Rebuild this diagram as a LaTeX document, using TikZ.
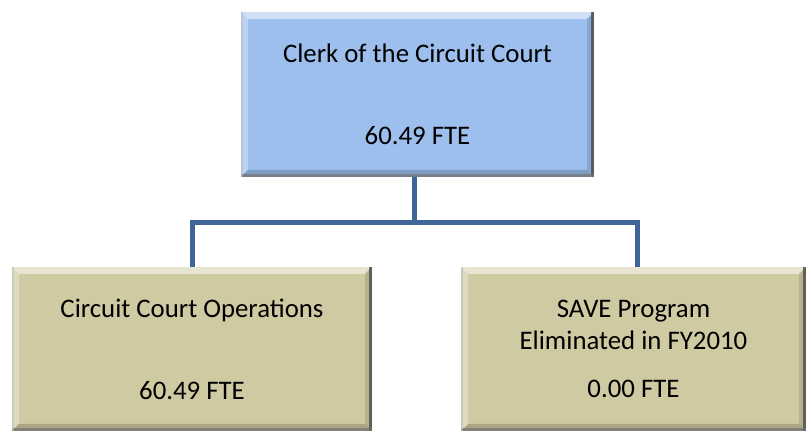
\documentclass[tikz,border=0pt]{standalone}
\usepackage{fontspec}
\setmainfont{Carlito}
\usetikzlibrary{calc}
\definecolor{headfill}{HTML}{9DBFEE}
\definecolor{unitfill}{HTML}{D0CAA3}
\definecolor{linkblue}{HTML}{3F6598}
\tikzset{
  orgbox/.style={
    rectangle, inner sep=0pt, fill=#1, align=center,
    font=\fontsize{26.8}{31.5}\selectfont,
    path picture={
      \coordinate (bnw) at (path picture bounding box.north west);
      \coordinate (bne) at (path picture bounding box.north east);
      \coordinate (bsw) at (path picture bounding box.south west);
      \coordinate (bse) at (path picture bounding box.south east);
      % bevel: light top and left faces, dark bottom and right faces
      \fill[white,opacity=.5] (bnw) -- (bne) -- ($(bne)+(-7,-7)$) -- ($(bnw)+(7,-7)$) -- cycle;
      \fill[white,opacity=.3] (bnw) -- ($(bnw)+(7,-7)$) -- ($(bsw)+(7,7)$) -- (bsw) -- cycle;
      \fill[black,opacity=.18] (bsw) -- ($(bsw)+(7,7)$) -- ($(bse)+(-7,7)$) -- (bse) -- cycle;
      \fill[black,opacity=.12] (bne) -- (bse) -- ($(bse)+(-7,7)$) -- ($(bne)+(-7,-7)$) -- cycle;
      % rim shadow on the right and bottom, pale rim on the left
      \fill[black!70,opacity=.8] ($(bne)+(-3,0)$) rectangle (bse);
      \fill[black!55,opacity=.7] ($(bsw)+(0,3)$) rectangle (bse);
      \fill[black!25,opacity=.6] (bnw) rectangle ($(bsw)+(2,0)$);
    }
  },
  link/.style={draw=linkblue, line width=5pt}
}
\begin{document}
\begin{tikzpicture}[x=1pt,y=1pt]
  \useasboundingbox (0,0) rectangle (807,431);
  \node[orgbox=headfill, minimum width=353pt, minimum height=165pt] (clerk) at (417.5,336.5)
    {Clerk of the Circuit Court\\[50.5pt]60.49 FTE};
  \node[orgbox=unitfill, minimum width=360pt, minimum height=164pt] (ops) at (192,82)
    {Circuit Court Operations\\[50.5pt]60.49 FTE};
  \node[orgbox=unitfill, minimum width=345pt, minimum height=164pt] (save) at (633.5,82)
    {SAVE Program\\Eliminated in FY2010\\[17pt]0.00 FTE};
  \coordinate (hub) at ($(clerk.south)+(-3,-45)$);
  \draw[link] ($(clerk.south)+(-3,0)$) -- (hub);
  \draw[link] (ops.north) |- (hub) -| ($(save.north)+(4,0)$);
\end{tikzpicture}
\end{document}
